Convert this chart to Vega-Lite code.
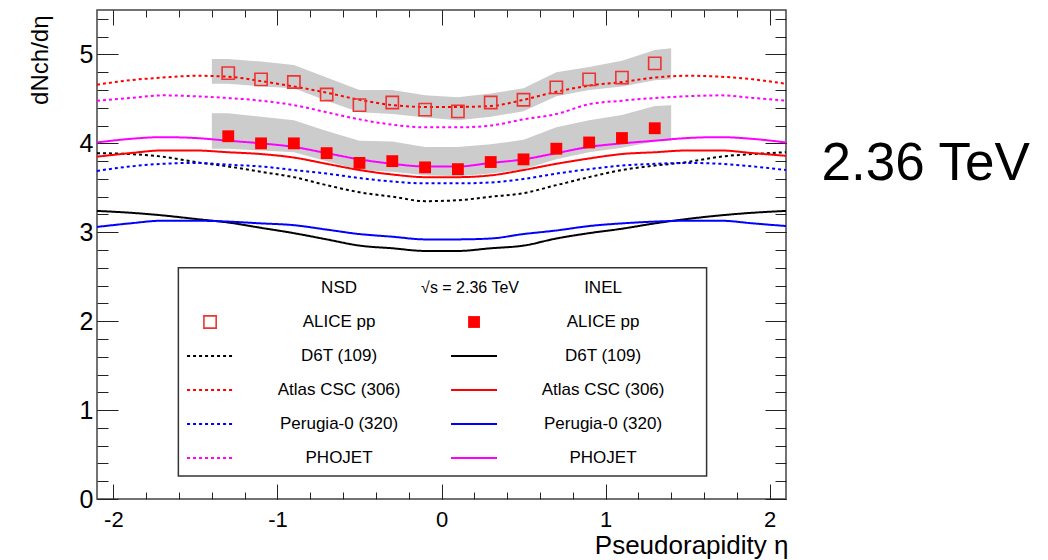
{
  "$schema": "https://vega.github.io/schema/vega-lite/v6.json",
  "width": 689,
  "height": 489,
  "autosize": {"type": "none"},
  "padding": {"left": 97, "top": 10, "right": 262, "bottom": 61},
  "background": "white",
  "config": {
    "font": "Liberation Sans",
    "view": {"stroke": "#444", "strokeWidth": 1.5},
    "axis": {"grid": false, "domain": false, "tickColor": "#222", "tickWidth": 1, "labelColor": "#000", "titleColor": "#000", "titleFontWeight": "normal", "labelFont": "Liberation Sans", "titleFont": "Liberation Sans", "labelFlush": false, "labelOverlap": false},
    "text": {"font": "Liberation Sans"}
  },
  "datasets": {
    "models": [
      {"eta": -2.1, "D6T NSD": 3.89, "Atlas NSD": 4.66, "Perugia NSD": 3.69, "PHOJET NSD": 4.48, "D6T INEL": 3.24, "Atlas INEL": 3.85, "Perugia INEL": 3.06, "PHOJET INEL": 4.01},
      {"eta": -1.9, "D6T NSD": 3.88, "Atlas NSD": 4.71, "Perugia NSD": 3.74, "PHOJET NSD": 4.51, "D6T INEL": 3.22, "Atlas INEL": 3.89, "Perugia INEL": 3.10, "PHOJET INEL": 4.05},
      {"eta": -1.7, "D6T NSD": 3.85, "Atlas NSD": 4.74, "Perugia NSD": 3.77, "PHOJET NSD": 4.54, "D6T INEL": 3.19, "Atlas INEL": 3.92, "Perugia INEL": 3.13, "PHOJET INEL": 4.07},
      {"eta": -1.5, "D6T NSD": 3.79, "Atlas NSD": 4.76, "Perugia NSD": 3.78, "PHOJET NSD": 4.53, "D6T INEL": 3.15, "Atlas INEL": 3.92, "Perugia INEL": 3.13, "PHOJET INEL": 4.06},
      {"eta": -1.3, "D6T NSD": 3.74, "Atlas NSD": 4.75, "Perugia NSD": 3.76, "PHOJET NSD": 4.51, "D6T INEL": 3.11, "Atlas INEL": 3.90, "Perugia INEL": 3.12, "PHOJET INEL": 4.03},
      {"eta": -1.1, "D6T NSD": 3.68, "Atlas NSD": 4.70, "Perugia NSD": 3.74, "PHOJET NSD": 4.48, "D6T INEL": 3.05, "Atlas INEL": 3.88, "Perugia INEL": 3.10, "PHOJET INEL": 4.00},
      {"eta": -0.9, "D6T NSD": 3.62, "Atlas NSD": 4.64, "Perugia NSD": 3.70, "PHOJET NSD": 4.43, "D6T INEL": 2.99, "Atlas INEL": 3.84, "Perugia INEL": 3.08, "PHOJET INEL": 3.96},
      {"eta": -0.7, "D6T NSD": 3.53, "Atlas NSD": 4.57, "Perugia NSD": 3.66, "PHOJET NSD": 4.35, "D6T INEL": 2.92, "Atlas INEL": 3.77, "Perugia INEL": 3.03, "PHOJET INEL": 3.89},
      {"eta": -0.5, "D6T NSD": 3.45, "Atlas NSD": 4.49, "Perugia NSD": 3.61, "PHOJET NSD": 4.27, "D6T INEL": 2.85, "Atlas INEL": 3.70, "Perugia INEL": 2.98, "PHOJET INEL": 3.82},
      {"eta": -0.3, "D6T NSD": 3.40, "Atlas NSD": 4.43, "Perugia NSD": 3.57, "PHOJET NSD": 4.21, "D6T INEL": 2.82, "Atlas INEL": 3.65, "Perugia INEL": 2.95, "PHOJET INEL": 3.77},
      {"eta": -0.1, "D6T NSD": 3.35, "Atlas NSD": 4.41, "Perugia NSD": 3.55, "PHOJET NSD": 4.18, "D6T INEL": 2.79, "Atlas INEL": 3.62, "Perugia INEL": 2.92, "PHOJET INEL": 3.74},
      {"eta": 0.1, "D6T NSD": 3.36, "Atlas NSD": 4.41, "Perugia NSD": 3.55, "PHOJET NSD": 4.18, "D6T INEL": 2.79, "Atlas INEL": 3.62, "Perugia INEL": 2.92, "PHOJET INEL": 3.74},
      {"eta": 0.3, "D6T NSD": 3.40, "Atlas NSD": 4.42, "Perugia NSD": 3.56, "PHOJET NSD": 4.20, "D6T INEL": 2.82, "Atlas INEL": 3.64, "Perugia INEL": 2.93, "PHOJET INEL": 3.78},
      {"eta": 0.5, "D6T NSD": 3.44, "Atlas NSD": 4.49, "Perugia NSD": 3.60, "PHOJET NSD": 4.27, "D6T INEL": 2.85, "Atlas INEL": 3.70, "Perugia INEL": 2.98, "PHOJET INEL": 3.82},
      {"eta": 0.7, "D6T NSD": 3.53, "Atlas NSD": 4.58, "Perugia NSD": 3.66, "PHOJET NSD": 4.33, "D6T INEL": 2.93, "Atlas INEL": 3.77, "Perugia INEL": 3.02, "PHOJET INEL": 3.89},
      {"eta": 0.9, "D6T NSD": 3.62, "Atlas NSD": 4.65, "Perugia NSD": 3.71, "PHOJET NSD": 4.44, "D6T INEL": 2.99, "Atlas INEL": 3.83, "Perugia INEL": 3.07, "PHOJET INEL": 3.96},
      {"eta": 1.1, "D6T NSD": 3.70, "Atlas NSD": 4.69, "Perugia NSD": 3.75, "PHOJET NSD": 4.48, "D6T INEL": 3.04, "Atlas INEL": 3.88, "Perugia INEL": 3.10, "PHOJET INEL": 4.00},
      {"eta": 1.3, "D6T NSD": 3.75, "Atlas NSD": 4.74, "Perugia NSD": 3.77, "PHOJET NSD": 4.51, "D6T INEL": 3.10, "Atlas INEL": 3.90, "Perugia INEL": 3.12, "PHOJET INEL": 4.03},
      {"eta": 1.5, "D6T NSD": 3.79, "Atlas NSD": 4.76, "Perugia NSD": 3.78, "PHOJET NSD": 4.53, "D6T INEL": 3.15, "Atlas INEL": 3.92, "Perugia INEL": 3.13, "PHOJET INEL": 4.06},
      {"eta": 1.7, "D6T NSD": 3.85, "Atlas NSD": 4.75, "Perugia NSD": 3.77, "PHOJET NSD": 4.54, "D6T INEL": 3.19, "Atlas INEL": 3.92, "Perugia INEL": 3.13, "PHOJET INEL": 4.07},
      {"eta": 1.9, "D6T NSD": 3.88, "Atlas NSD": 4.72, "Perugia NSD": 3.74, "PHOJET NSD": 4.51, "D6T INEL": 3.22, "Atlas INEL": 3.89, "Perugia INEL": 3.10, "PHOJET INEL": 4.05},
      {"eta": 2.1, "D6T NSD": 3.90, "Atlas NSD": 4.67, "Perugia NSD": 3.70, "PHOJET NSD": 4.48, "D6T INEL": 3.24, "Atlas INEL": 3.86, "Perugia INEL": 3.07, "PHOJET INEL": 4.01}
    ],
    "alice": [
      {"eta": -1.4, "nsdLo": 4.67, "nsdHi": 4.95, "inelLo": 3.94, "inelHi": 4.34},
      {"eta": -1.3, "nsd": 4.79, "nsdLo": 4.67, "nsdHi": 4.95, "inel": 4.08, "inelLo": 3.94, "inelHi": 4.34},
      {"eta": -1.1, "nsd": 4.72, "nsdLo": 4.64, "nsdHi": 4.92, "inel": 4.00, "inelLo": 3.92, "inelHi": 4.30},
      {"eta": -0.9, "nsd": 4.69, "nsdLo": 4.62, "nsdHi": 4.88, "inel": 4.00, "inelLo": 3.90, "inelHi": 4.26},
      {"eta": -0.7, "nsd": 4.55, "nsdLo": 4.48, "nsdHi": 4.74, "inel": 3.89, "inelLo": 3.80, "inelHi": 4.14},
      {"eta": -0.5, "nsd": 4.43, "nsdLo": 4.35, "nsdHi": 4.60, "inel": 3.78, "inelLo": 3.70, "inelHi": 4.03},
      {"eta": -0.3, "nsd": 4.46, "nsdLo": 4.33, "nsdHi": 4.60, "inel": 3.80, "inelLo": 3.68, "inelHi": 4.02},
      {"eta": -0.1, "nsd": 4.38, "nsdLo": 4.29, "nsdHi": 4.54, "inel": 3.73, "inelLo": 3.64, "inelHi": 3.96},
      {"eta": 0.1, "nsd": 4.36, "nsdLo": 4.26, "nsdHi": 4.52, "inel": 3.71, "inelLo": 3.63, "inelHi": 3.96},
      {"eta": 0.3, "nsd": 4.46, "nsdLo": 4.30, "nsdHi": 4.56, "inel": 3.79, "inelLo": 3.66, "inelHi": 3.99},
      {"eta": 0.5, "nsd": 4.49, "nsdLo": 4.36, "nsdHi": 4.62, "inel": 3.82, "inelLo": 3.71, "inelHi": 4.04},
      {"eta": 0.7, "nsd": 4.63, "nsdLo": 4.53, "nsdHi": 4.80, "inel": 3.94, "inelLo": 3.82, "inelHi": 4.18},
      {"eta": 0.9, "nsd": 4.72, "nsdLo": 4.60, "nsdHi": 4.86, "inel": 4.01, "inelLo": 3.90, "inelHi": 4.26},
      {"eta": 1.1, "nsd": 4.74, "nsdLo": 4.64, "nsdHi": 4.93, "inel": 4.06, "inelLo": 3.95, "inelHi": 4.32},
      {"eta": 1.3, "nsd": 4.90, "nsdLo": 4.71, "nsdHi": 5.05, "inel": 4.17, "inelLo": 4.02, "inelHi": 4.42},
      {"eta": 1.4, "nsdLo": 4.72, "nsdHi": 5.07, "inelLo": 4.03, "inelHi": 4.43}
    ],
    "legend": [
      {"set": "NSD", "item": "ALICE pp", "key": "ALICE NSD"},
      {"set": "INEL", "item": "ALICE pp", "key": "ALICE INEL"},
      {"set": "NSD", "item": "D6T (109)", "key": "D6T NSD"},
      {"set": "INEL", "item": "D6T (109)", "key": "D6T INEL"},
      {"set": "NSD", "item": "Atlas CSC (306)", "key": "Atlas NSD"},
      {"set": "INEL", "item": "Atlas CSC (306)", "key": "Atlas INEL"},
      {"set": "NSD", "item": "Perugia-0 (320)", "key": "Perugia NSD"},
      {"set": "INEL", "item": "Perugia-0 (320)", "key": "Perugia INEL"},
      {"set": "NSD", "item": "PHOJET", "key": "PHOJET NSD"},
      {"set": "INEL", "item": "PHOJET", "key": "PHOJET INEL"}
    ],
    "headers": [
      {"set": "NSD", "item": "header", "label": "NSD"},
      {"set": "INEL", "item": "header", "label": "INEL"}
    ],
    "energy": [
      {"set": "INEL", "item": "header", "label": "√s = 2.36 TeV"}
    ]
  },
  "layer": [
    {
      "layer": [
        {
          "data": {"name": "alice"},
          "mark": {"type": "area", "color": "#cccccc", "interpolate": "linear"},
          "encoding": {
            "x": {"field": "eta", "type": "quantitative", "scale": {"domain": [-2.1, 2.1], "nice": false, "zero": false},
              "axis": {"orient": "bottom", "values": [-2, -1, 0, 1, 2], "labelExpr": "datum.value + ''", "tickSize": -15, "labelFontSize": 22, "labelPadding": 25, "title": "Pseudorapidity η", "titleFontSize": 26, "titleX": 691, "titleY": 54, "titleAlign": "right", "titleBaseline": "alphabetic", "titleAngle": 0}},
            "y": {"field": "nsdLo", "type": "quantitative", "scale": {"domain": [0, 5.5], "nice": false, "zero": false},
              "axis": {"orient": "left", "values": [0, 1, 2, 3, 4, 5], "tickSize": -21, "labelFontSize": 25, "labelPadding": 25, "labelBaseline": "middle", "title": "dNch/dη", "titleFontSize": 24, "titleX": -50, "titleY": 5, "titleAlign": "right", "titleBaseline": "alphabetic", "titleAngle": -90}},
            "y2": {"field": "nsdHi"}
          }
        },
        {
          "data": {"name": "alice"},
          "mark": {"type": "area", "color": "#cccccc", "interpolate": "linear"},
          "encoding": {
            "x": {"field": "eta", "type": "quantitative", "scale": {"domain": [-2.1, 2.1], "nice": false, "zero": false},
              "axis": {"orient": "bottom", "values": [-2, -1.8, -1.6, -1.4, -1.2, -1, -0.8, -0.6, -0.4, -0.2, 0, 0.2, 0.4, 0.6, 0.8, 1, 1.2, 1.4, 1.6, 1.8, 2], "tickSize": -7, "labels": false, "title": null}},
            "y": {"field": "inelLo", "type": "quantitative", "scale": {"domain": [0, 5.5], "nice": false, "zero": false},
              "axis": {"orient": "left", "values": [0, 0.2, 0.4, 0.6, 0.8, 1, 1.2, 1.4, 1.6, 1.8, 2, 2.2, 2.4, 2.6, 2.8, 3, 3.2, 3.4, 3.6, 3.8, 4, 4.2, 4.4, 4.6, 4.8, 5, 5.2, 5.4], "tickSize": -11, "labels": false, "title": null}},
            "y2": {"field": "inelHi"}
          }
        },
        {
          "data": {"name": "models"},
          "transform": [{"fold": ["D6T NSD", "Atlas NSD", "Perugia NSD", "PHOJET NSD", "D6T INEL", "Atlas INEL", "Perugia INEL", "PHOJET INEL"], "as": ["key", "value"]}],
          "mark": {"type": "line", "strokeWidth": 2, "interpolate": "monotone"},
          "encoding": {
            "x": {"field": "eta", "type": "quantitative", "scale": {"domain": [-2.1, 2.1], "nice": false, "zero": false}, "axis": null},
            "y": {"field": "value", "type": "quantitative", "scale": {"domain": [0, 5.5], "nice": false, "zero": false}, "axis": null},
            "stroke": {"field": "key", "type": "nominal", "legend": null,
              "scale": {"domain": ["D6T NSD", "Atlas NSD", "Perugia NSD", "PHOJET NSD", "D6T INEL", "Atlas INEL", "Perugia INEL", "PHOJET INEL"],
                "range": ["#000000", "#ff0000", "#0000ff", "#ff00ff", "#000000", "#ff0000", "#0000ff", "#ff00ff"]}},
            "strokeDash": {"field": "key", "type": "nominal", "legend": null,
              "scale": {"domain": ["D6T NSD", "Atlas NSD", "Perugia NSD", "PHOJET NSD", "D6T INEL", "Atlas INEL", "Perugia INEL", "PHOJET INEL"],
                "range": [[3, 3], [3, 3], [3, 3], [3, 3], [1, 0], [1, 0], [1, 0], [1, 0]]}}
          }
        },
        {
          "data": {"name": "alice"},
          "mark": {"type": "point", "shape": "square", "filled": false, "stroke": "#ee3333", "strokeWidth": 1.6, "size": 150, "opacity": 1},
          "encoding": {
            "x": {"field": "eta", "type": "quantitative", "scale": {"domain": [-2.1, 2.1], "nice": false, "zero": false},
              "axis": {"orient": "top", "values": [-2, -1, 0, 1, 2], "tickSize": -15, "labels": false, "title": null}},
            "y": {"field": "nsd", "type": "quantitative", "scale": {"domain": [0, 5.5], "nice": false, "zero": false},
              "axis": {"orient": "right", "values": [0, 1, 2, 3, 4, 5], "tickSize": -21, "labels": false, "title": null}}
          }
        },
        {
          "data": {"name": "alice"},
          "mark": {"type": "point", "shape": "square", "filled": true, "color": "#ff0000", "size": 140, "opacity": 1},
          "encoding": {
            "x": {"field": "eta", "type": "quantitative", "scale": {"domain": [-2.1, 2.1], "nice": false, "zero": false},
              "axis": {"orient": "top", "values": [-2, -1.8, -1.6, -1.4, -1.2, -1, -0.8, -0.6, -0.4, -0.2, 0, 0.2, 0.4, 0.6, 0.8, 1, 1.2, 1.4, 1.6, 1.8, 2], "tickSize": -7, "labels": false, "title": null}},
            "y": {"field": "inel", "type": "quantitative", "scale": {"domain": [0, 5.5], "nice": false, "zero": false},
              "axis": {"orient": "right", "values": [0, 0.2, 0.4, 0.6, 0.8, 1, 1.2, 1.4, 1.6, 1.8, 2, 2.2, 2.4, 2.6, 2.8, 3, 3.2, 3.4, 3.6, 3.8, 4, 4.2, 4.4, 4.6, 4.8, 5, 5.2, 5.4], "tickSize": -11, "labels": false, "title": null}}
          }
        },
        {
          "data": {"values": [{}]},
          "mark": {"type": "rect", "fill": "#ffffff", "stroke": "#333333", "strokeWidth": 1.5},
          "encoding": {
            "x": {"datum": -1.604, "type": "quantitative", "scale": {"domain": [-2.1, 2.1], "nice": false, "zero": false}, "axis": null},
            "x2": {"datum": 1.616},
            "y": {"datum": 0.26, "type": "quantitative", "scale": {"domain": [0, 5.5], "nice": false, "zero": false}, "axis": null},
            "y2": {"datum": 2.6}
          }
        },
        {
          "data": {"values": [{}]},
          "mark": {"type": "text", "fontSize": 53, "align": "center", "baseline": "middle", "color": "#000000"},
          "encoding": {
            "x": {"datum": 2.951, "type": "quantitative", "scale": {"domain": [-2.1, 2.1], "nice": false, "zero": false}, "axis": null},
            "y": {"datum": 3.77, "type": "quantitative", "scale": {"domain": [0, 5.5], "nice": false, "zero": false}, "axis": null},
            "text": {"value": "2.36 TeV"}
          }
        }
      ],
      "resolve": {"axis": {"x": "independent", "y": "independent"}}
    },
    {
      "layer": [
        {
          "data": {"name": "headers"},
          "mark": {"type": "text", "fontSize": 17, "align": "center", "baseline": "middle", "dx": 129, "color": "#000000"},
          "encoding": {
            "x": {"field": "set", "type": "nominal", "scale": {"type": "point", "domain": ["NSD", "INEL"], "padding": 0.805, "align": 0.266}, "axis": null},
            "y": {"field": "item", "type": "nominal", "scale": {"type": "point", "domain": ["header", "ALICE pp", "D6T (109)", "Atlas CSC (306)", "Perugia-0 (320)", "PHOJET"], "range": [278, 448], "padding": 0}, "axis": null},
            "text": {"field": "label"}
          }
        },
        {
          "data": {"name": "energy"},
          "mark": {"type": "text", "fontSize": 16, "align": "center", "baseline": "middle", "dx": -4, "color": "#000000"},
          "encoding": {
            "x": {"field": "set", "type": "nominal", "scale": {"type": "point", "domain": ["NSD", "INEL"], "padding": 0.805, "align": 0.266}, "axis": null},
            "y": {"field": "item", "type": "nominal", "scale": {"type": "point", "domain": ["header", "ALICE pp", "D6T (109)", "Atlas CSC (306)", "Perugia-0 (320)", "PHOJET"], "range": [278, 448], "padding": 0}, "axis": null},
            "text": {"field": "label"}
          }
        },
        {
          "data": {"name": "legend"},
          "mark": {"type": "text", "fontSize": 17, "align": "center", "baseline": "middle", "dx": 129, "color": "#000000"},
          "encoding": {
            "x": {"field": "set", "type": "nominal", "scale": {"type": "point", "domain": ["NSD", "INEL"], "padding": 0.805, "align": 0.266}, "axis": null},
            "y": {"field": "item", "type": "nominal", "scale": {"type": "point", "domain": ["header", "ALICE pp", "D6T (109)", "Atlas CSC (306)", "Perugia-0 (320)", "PHOJET"], "range": [278, 448], "padding": 0}, "axis": null},
            "text": {"field": "item"}
          }
        },
        {
          "data": {"name": "legend"},
          "transform": [{"filter": "datum.key === 'ALICE NSD'"}],
          "mark": {"type": "point", "shape": "square", "filled": false, "stroke": "#ee3333", "strokeWidth": 1.6, "size": 150, "opacity": 1},
          "encoding": {
            "x": {"field": "set", "type": "nominal", "scale": {"type": "point", "domain": ["NSD", "INEL"], "padding": 0.805, "align": 0.266}, "axis": null},
            "y": {"field": "item", "type": "nominal", "scale": {"type": "point", "domain": ["header", "ALICE pp", "D6T (109)", "Atlas CSC (306)", "Perugia-0 (320)", "PHOJET"], "range": [278, 448], "padding": 0}, "axis": null}
          }
        },
        {
          "data": {"name": "legend"},
          "transform": [{"filter": "datum.key === 'ALICE INEL'"}],
          "mark": {"type": "point", "shape": "square", "filled": true, "color": "#ff0000", "size": 140, "opacity": 1},
          "encoding": {
            "x": {"field": "set", "type": "nominal", "scale": {"type": "point", "domain": ["NSD", "INEL"], "padding": 0.805, "align": 0.266}, "axis": null},
            "y": {"field": "item", "type": "nominal", "scale": {"type": "point", "domain": ["header", "ALICE pp", "D6T (109)", "Atlas CSC (306)", "Perugia-0 (320)", "PHOJET"], "range": [278, 448], "padding": 0}, "axis": null}
          }
        },
        {
          "data": {"name": "legend"},
          "transform": [{"filter": "datum.item !== 'ALICE pp'"}],
          "mark": {"type": "point", "shape": "M-1,0L1,0", "filled": false, "strokeWidth": 2, "size": 2116, "opacity": 1},
          "encoding": {
            "x": {"field": "set", "type": "nominal", "scale": {"type": "point", "domain": ["NSD", "INEL"], "padding": 0.805, "align": 0.266}, "axis": null},
            "y": {"field": "item", "type": "nominal", "scale": {"type": "point", "domain": ["header", "ALICE pp", "D6T (109)", "Atlas CSC (306)", "Perugia-0 (320)", "PHOJET"], "range": [278, 448], "padding": 0}, "axis": null},
            "stroke": {"field": "key", "type": "nominal", "legend": null,
              "scale": {"domain": ["D6T NSD", "Atlas NSD", "Perugia NSD", "PHOJET NSD", "D6T INEL", "Atlas INEL", "Perugia INEL", "PHOJET INEL"],
                "range": ["#000000", "#ff0000", "#0000ff", "#ff00ff", "#000000", "#ff0000", "#0000ff", "#ff00ff"]}},
            "strokeDash": {"field": "key", "type": "nominal", "legend": null,
              "scale": {"domain": ["D6T NSD", "Atlas NSD", "Perugia NSD", "PHOJET NSD", "D6T INEL", "Atlas INEL", "Perugia INEL", "PHOJET INEL"],
                "range": [[3, 3], [3, 3], [3, 3], [3, 3], [1, 0], [1, 0], [1, 0], [1, 0]]}}
          }
        }
      ]
    }
  ],
  "resolve": {"scale": {"x": "independent", "y": "independent"}}
}
